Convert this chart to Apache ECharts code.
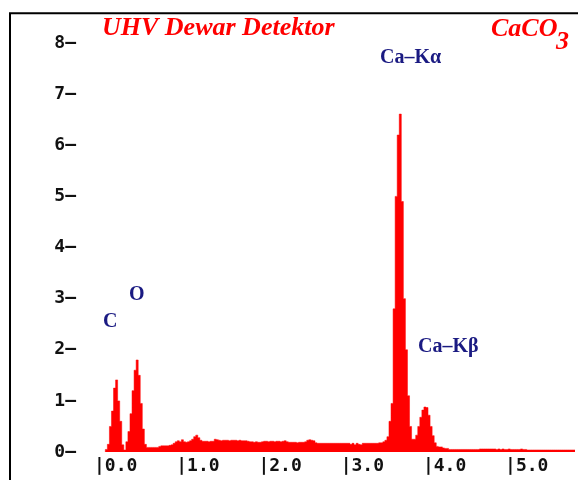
<!DOCTYPE html>
<html>
<head>
<meta charset="utf-8">
<script src="https://cdn.jsdelivr.net/npm/echarts@6/dist/echarts.min.js"></script>
<style>html,body{margin:0;padding:0;background:#fff}#c{width:578px;height:480px}</style>
</head>
<body>
<div id="c"></div>
<script>
// Spectrum channels: first channel energy (keV) and channel width (keV)
const startEnergy = 0.15;
const channelWidth = 0.025;
// Counts (x1000), one per channel
const counts = [
  0.05,0.15,0.5,0.8,1.25,1.41,1.0,0.6,0.14,0.04,
  0.2,0.4,0.75,1.2,1.6,1.8,1.5,0.95,0.45,0.15,
  0.09,0.09,0.09,0.09,0.09,0.09,0.11,0.12,0.12,0.12,
  0.12,0.13,0.14,0.17,0.2,0.22,0.2,0.24,0.2,0.19,
  0.2,0.22,0.25,0.3,0.33,0.28,0.23,0.21,0.21,0.21,
  0.2,0.21,0.21,0.25,0.24,0.23,0.22,0.23,0.23,0.23,
  0.22,0.23,0.23,0.23,0.22,0.23,0.22,0.22,0.22,0.21,
  0.2,0.2,0.19,0.2,0.19,0.19,0.2,0.21,0.21,0.2,
  0.21,0.21,0.2,0.21,0.21,0.2,0.21,0.22,0.2,0.19,
  0.19,0.19,0.19,0.18,0.19,0.19,0.19,0.2,0.23,0.24,
  0.23,0.22,0.18,0.17,0.17,0.17,0.17,0.17,0.17,0.17,
  0.17,0.17,0.17,0.17,0.17,0.17,0.17,0.17,0.17,0.15,
  0.17,0.14,0.17,0.15,0.14,0.17,0.17,0.17,0.17,0.17,
  0.17,0.17,0.17,0.18,0.18,0.2,0.23,0.3,0.6,0.95,
  2.8,5.0,6.2,6.61,4.9,3.0,2.0,1.1,0.5,0.25,
  0.25,0.33,0.5,0.68,0.82,0.88,0.87,0.72,0.5,0.32,
  0.18,0.11,0.1,0.1,0.08,0.07,0.07,0.05,0.05,0.05,
  0.05,0.05,0.05,0.05,0.05,0.05,0.05,0.05,0.05,0.05,
  0.05,0.05,0.06,0.06,0.06,0.06,0.06,0.06,0.06,0.06,
  0.05,0.06,0.05,0.06,0.05,0.05,0.06,0.05,0.05,0.05,
  0.05,0.05,0.06,0.05,0.05,0.04,0.04,0.04,0.04,0.04,
  0.04,0.04,0.04,0.04,0.04,0.04,0.04,0.04,0.04,0.04,
  0.04,0.04,0.04,0.04,0.04,0.04,0.04,0.04,0.04
];
const xTicks = [0, 1, 2, 3, 4, 5];
const yTicks = [0, 1, 2, 3, 4, 5, 6, 7, 8];
const titleLeft = 'UHV Dewar Detektor';
const titleRight = 'CaCO';
const titleRightSub = '3';
const peakLabels = ['C', 'O', 'Ca\u2013K\u03b1', 'Ca\u2013K\u03b2'];

const seriesData = counts.map((v, i) => [+(startEnergy + i * channelWidth).toFixed(4), v]);

const chart = echarts.init(document.getElementById('c'), null, {renderer: 'canvas'});
const red = '#ff0000';
const navy = '#1a1a82';
const tickFont = {fontFamily: 'DejaVu Sans Mono', fontWeight: 'bold', fontSize: 18, color: '#111'};
const peakFont = {fontFamily: 'Liberation Serif', fontWeight: 'bold', fontSize: 20, fill: navy};
const titleFont = {fontFamily: 'Liberation Serif', fontWeight: 'bold', fontStyle: 'italic', fontSize: 26, fill: red};

// Draw the whole histogram as one stepped polygon (no seams between channels)
function renderSpectrum(params, api) {
  if (params.dataIndex !== 0) return null;
  const half = channelWidth / 2;
  const pts = [];
  const first = seriesData[0][0] - half;
  pts.push(api.coord([first, 0]));
  seriesData.forEach(d => {
    pts.push(api.coord([d[0] - half, d[1]]));
    pts.push(api.coord([d[0] + half, d[1]]));
  });
  pts.push(api.coord([seriesData[seriesData.length - 1][0] + half, 0]));
  return {
    type: 'polygon',
    shape: {points: pts},
    style: {fill: red, stroke: red, lineWidth: 0.5},
    clipPath: {type: 'rect', shape: {x: params.coordSys.x, y: params.coordSys.y, width: params.coordSys.width, height: params.coordSys.height}}
  };
}

chart.setOption({
  animation: false,
  backgroundColor: '#fff',
  grid: {left: 94, right: 1, top: 43, bottom: 28},
  xAxis: {
    type: 'value', min: 0, max: 5.85, interval: 1,
    axisLine: {show: false}, axisTick: {show: false}, splitLine: {show: false},
    axisLabel: {
      ...tickFont, margin: 5, align: 'left',
      formatter: v => xTicks.includes(v) ? '|' + v.toFixed(1) : ''
    }
  },
  yAxis: {
    type: 'value', min: 0, max: 8, interval: 1,
    axisLine: {show: false}, axisTick: {show: false}, splitLine: {show: false},
    axisLabel: {
      ...tickFont, margin: 18,
      formatter: v => yTicks.includes(v) ? v + '\u2013' : ''
    }
  },
  series: [{
    type: 'custom',
    renderItem: renderSpectrum,
    data: seriesData,
    encode: {x: 0, y: 1}
  }],
  graphic: [
    {type: 'rect', shape: {x: 10, y: 13.3, width: 700, height: 600}, style: {fill: 'none', stroke: '#000', lineWidth: 2}, silent: true},
    {type: 'text', x: 102, y: 28.5, style: {text: titleLeft, ...titleFont, verticalAlign: 'middle'}},
    {type: 'text', x: 491, y: 29.5, style: {text: titleRight, ...titleFont, verticalAlign: 'middle'}},
    {type: 'text', x: 556, y: 42, style: {text: titleRightSub, ...titleFont, verticalAlign: 'middle'}},
    {type: 'text', x: 103, y: 321.5, style: {text: peakLabels[0], ...peakFont, verticalAlign: 'middle'}},
    {type: 'text', x: 129, y: 294.5, style: {text: peakLabels[1], ...peakFont, verticalAlign: 'middle'}},
    {type: 'text', x: 380, y: 58, style: {text: peakLabels[2], ...peakFont, verticalAlign: 'middle'}},
    {type: 'text', x: 418, y: 347, style: {text: peakLabels[3], ...peakFont, verticalAlign: 'middle'}}
  ]
});
</script>
</body>
</html>
